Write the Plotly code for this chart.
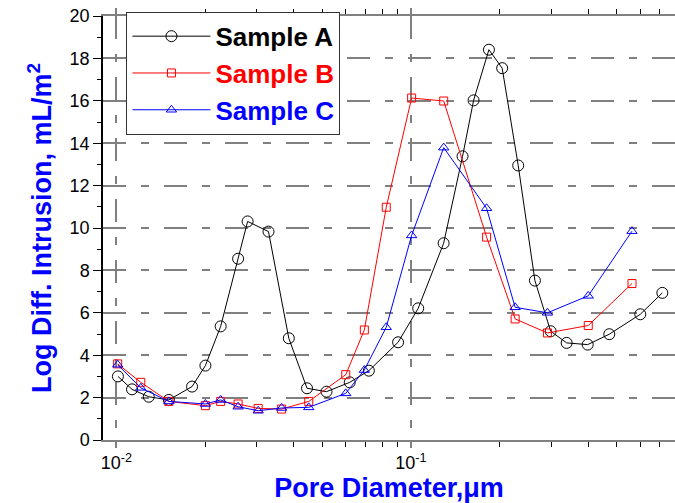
import plotly.graph_objects as go

# ---- data ----
x_a = [0.01012, 0.0113, 0.01288, 0.01507, 0.01807, 0.02006, 0.0226, 0.0259, 0.0279,
       0.03285, 0.0385, 0.0444, 0.0517, 0.0620, 0.0720, 0.0905, 0.1059, 0.1292,
       0.1498, 0.1633, 0.1841, 0.2042, 0.2315, 0.2638, 0.2983, 0.3381, 0.3986,
       0.4719, 0.6014, 0.7145]
y_a = [3.0, 2.39, 2.04, 1.89, 2.52, 3.51, 5.36, 8.55, 10.31, 9.83, 4.80, 2.44, 2.28,
       2.72, 3.27, 4.61, 6.21, 9.28, 13.38, 16.02, 18.41, 17.54, 12.95, 7.52, 5.13,
       4.58, 4.50, 4.99, 5.93, 6.94]

x_bc = [0.0101, 0.0121, 0.01507, 0.02006, 0.0226, 0.0259, 0.0303, 0.0364, 0.0450,
        0.0601, 0.0695, 0.0825, 0.1006, 0.1293, 0.1808, 0.2260, 0.2910, 0.4003, 0.5636]
y_b = [3.59, 2.72, 1.82, 1.62, 1.82, 1.70, 1.49, 1.46, 1.82, 3.08, 5.19, 10.98,
       16.13, 15.99, 9.57, 5.71, 5.05, 5.40, 7.38]
y_c = [3.55, 2.46, 1.82, 1.70, 1.89, 1.57, 1.38, 1.51, 1.54, 2.20, 3.30, 5.32,
       9.65, 13.79, 10.93, 6.26, 6.00, 6.80, 9.85]

series_names = ["Sample A", "Sample B", "Sample C"]
colors = ["#000000", "#ff0000", "#0000ff"]

x_major = [0.01, 0.1]
x_major_text = ["10<sup>-2</sup>", "10<sup>-1</sup>"]
x_minor = [0.009, 0.02, 0.03, 0.04, 0.05, 0.06, 0.07, 0.08, 0.09,
           0.2, 0.3, 0.4, 0.5, 0.6, 0.7]
y_major = list(range(0, 21, 2))
y_minor = list(range(1, 20, 2))

FONT = "Liberation Sans, Arial, sans-serif"
GRIDDASH = "23px,15px,8px,15px"

fig = go.Figure()
fig.add_trace(go.Scatter(x=x_a, y=y_a, mode="lines+markers", name=series_names[0],
                         line=dict(color=colors[0], width=1),
                         marker=dict(symbol="circle-open", size=11, color=colors[0],
                                     line=dict(width=1, color=colors[0]))))
fig.add_trace(go.Scatter(x=x_bc, y=y_b, mode="lines+markers", name=series_names[1],
                         line=dict(color=colors[1], width=1),
                         marker=dict(symbol="square-open", size=8, color=colors[1],
                                     line=dict(width=1, color=colors[1]))))
fig.add_trace(go.Scatter(x=x_bc, y=y_c, mode="lines+markers", name=series_names[2],
                         line=dict(color=colors[2], width=1),
                         marker=dict(symbol="triangle-up-open", size=9, color=colors[2],
                                     line=dict(width=1, color=colors[2]))))

# colour legend texts like their series
for tr, c in zip(fig.data, colors):
    tr.name = f"<span style='color:{c}'>{tr.name}</span>"

fig.update_layout(
    width=675, height=503,
    margin=dict(l=103, r=0, t=16, b=63),
    paper_bgcolor="white", plot_bgcolor="white",
    font=dict(family=FONT, size=18, color="black"),
    showlegend=True,
    legend=dict(x=0.041, y=1.01, xanchor="left", yanchor="top",
                bgcolor="white", bordercolor="#333333", borderwidth=1,
                font=dict(family=FONT, size=26, weight="bold"),
                itemwidth=78),
)

fig.update_xaxes(
    type="log", range=[-2.0455, -0.103],
    tickmode="array", tickvals=x_major, ticktext=x_major_text,
    ticks="outside", ticklen=6, tickcolor="#808080", tickwidth=1.5,
    showline=True, linecolor="#808080", linewidth=1.5, mirror="ticks",
    showgrid=True, gridcolor="#808080", gridwidth=1.5, griddash=GRIDDASH,
    zeroline=False,
    minor=dict(tickvals=x_minor, ticks="outside", ticklen=5, tickcolor="black",
               tickwidth=1, showgrid=False),
    tickfont=dict(size=18),
    title=dict(text="<b>Pore Diameter,μm</b>", font=dict(size=27, color="#0000ff"),
               standoff=0),
)
fig.update_yaxes(
    range=[0, 20],
    tickmode="array", tickvals=y_major,
    ticks="outside", ticklen=8, tickcolor="black", tickwidth=1,
    showline=True, linecolor="black", linewidth=1.5, mirror=False,
    showgrid=True, gridcolor="#808080", gridwidth=1.5, griddash=GRIDDASH,
    zeroline=False,
    minor=dict(tickvals=y_minor, ticks="outside", ticklen=4, tickcolor="black",
               tickwidth=1, showgrid=False),
    tickfont=dict(size=18),
    title=dict(text="<b>Log Diff. Intrusion, mL/m<sup>2</sup></b>",
               font=dict(size=27, color="#0000ff"), standoff=10),
)

fig.write_html("out.html")
